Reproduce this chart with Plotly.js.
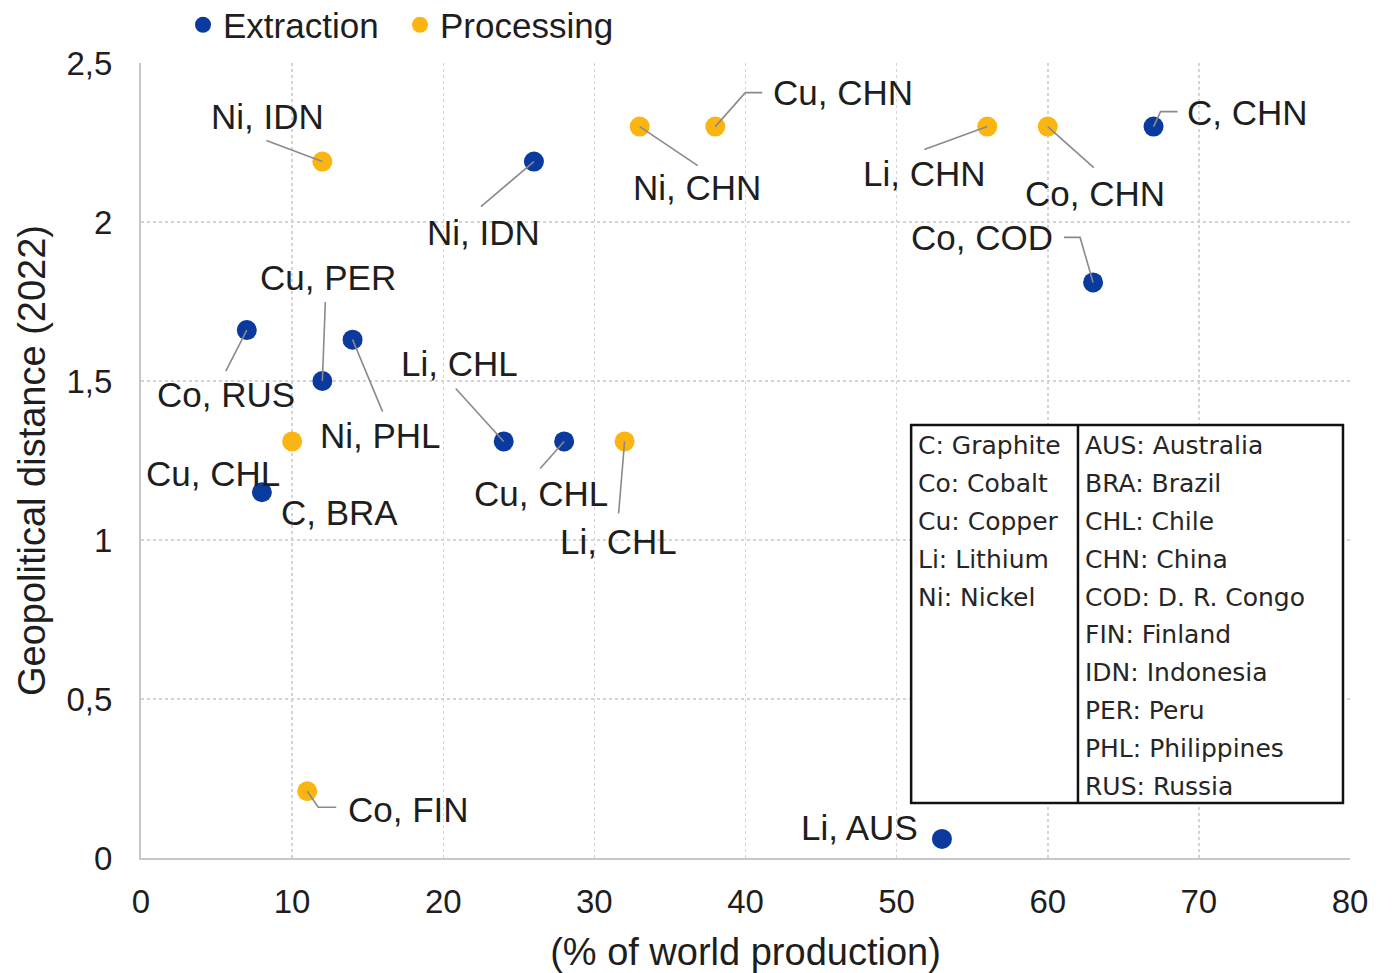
<!DOCTYPE html>
<html><head><meta charset="utf-8">
<script src="https://cdn.plot.ly/plotly-3.0.1.min.js"></script>
<style>html,body{margin:0;padding:0;background:#fff}#chart{width:1396px;height:973px}</style>
</head><body><div id="chart"></div>
<script>
// ---------- data ----------
const extractionX = [7, 8, 12, 14, 24, 26, 28, 53, 63, 67];
const extractionY = [1.66, 1.15, 1.5, 1.63, 1.31, 2.19, 1.31, 0.06, 1.81, 2.3];
const extractionLabels = ["Co, RUS", "C, BRA", "Cu, PER", "Ni, PHL", "Li, CHL", "Ni, IDN", "Cu, CHL", "Li, AUS", "Co, COD", "C, CHN"];

const processingX = [10, 11, 12, 32, 33, 38, 56, 60];
const processingY = [1.31, 0.21, 2.19, 1.31, 2.3, 2.3, 2.3, 2.3];
const processingLabels = ["Cu, CHL", "Co, FIN", "Ni, IDN", "Li, CHL", "Ni, CHN", "Cu, CHN", "Li, CHN", "Co, CHN"];

const xTicks = [0, 10, 20, 30, 40, 50, 60, 70, 80];
const yTicks = [0, 0.5, 1, 1.5, 2, 2.5];

const elementKey = ["C: Graphite", "Co: Cobalt", "Cu: Copper", "Li: Lithium", "Ni: Nickel"];
const countryKey = ["AUS: Australia", "BRA: Brazil", "CHL: Chile", "CHN: China", "COD: D. R. Congo",
                    "FIN: Finland", "IDN: Indonesia", "PER: Peru", "PHL: Philippines", "RUS: Russia"];

// ---------- label placement (pixel offsets from each point; leader path in pixels) ----------
const extractionPlacement = [
  {dx: -21, dy: 64, path: [[0,0],[-21,41]]},
  {dx: 78, dy: 20, path: null},
  {dx: 6, dy: -104, path: [[0,0],[3,-79]]},
  {dx: 28, dy: 96, path: [[0,0],[30,72]]},
  {dx: -44, dy: -78, path: [[0,0],[-48,-53]]},
  {dx: -50, dy: 71, path: [[0,0],[-53,45]]},
  {dx: -23, dy: 52, path: [[0,0],[-24,27]]},
  {dx: -82, dy: -11, path: null},
  {dx: -111, dy: -45, path: [[0,0],[-13,-45],[-29,-45]]},
  {dx: 94, dy: -14, path: [[0,0],[7,-15],[24,-15]]}
];
const processingPlacement = [
  {dx: -79, dy: 32, path: null},
  {dx: 101, dy: 18, path: [[0,0],[11,16],[29,16]]},
  {dx: -55, dy: -45, path: [[0,0],[-56,-21]]},
  {dx: -6, dy: 100, path: [[0,0],[-6,72]]},
  {dx: 57, dy: 61, path: [[0,0],[58,39]]},
  {dx: 128, dy: -34, path: [[0,0],[30,-34],[47,-34]]},
  {dx: -63, dy: 47, path: [[0,0],[-63,23]]},
  {dx: 47, dy: 67, path: [[0,0],[46,41]]}
];

// ---------- layout constants ----------
const W = 1396, H = 973;
const M = {l: 141, r: 46, t: 63, b: 115};
const XR = [0, 80], YR = [0, 2.5];
const plotW = W - M.l - M.r, plotH = H - M.t - M.b;
const xPerPx = (XR[1] - XR[0]) / plotW, yPerPx = (YR[1] - YR[0]) / plotH;

const BLUE = '#0a3a9e', YELLOW = '#fbb512';
const FONT = 'Liberation Sans, Arial, sans-serif';
const TXT = '#1e1e1e';

const annotations = [], shapes = [];
function addLabels(xs, ys, labels, placement) {
  xs.forEach((x, i) => {
    const p = placement[i];
    annotations.push({
      x: x, y: ys[i], xref: 'x', yref: 'y', text: labels[i], showarrow: false,
      xanchor: 'center', yanchor: 'middle', xshift: p.dx, yshift: -p.dy,
      font: {family: FONT, size: 35, color: TXT}
    });
    if (p.path) {
      const d = p.path.map((pt, k) => (k ? 'L' : 'M') + (x + pt[0] * xPerPx) + ',' + (ys[i] - pt[1] * yPerPx)).join(' ');
      shapes.push({type: 'path', xref: 'x', yref: 'y', path: d, layer: 'above',
                   line: {color: '#8a8a8a', width: 1.6}});
    }
  });
}
addLabels(extractionX, extractionY, extractionLabels, extractionPlacement);
addLabels(processingX, processingY, processingLabels, processingPlacement);

// key box (paper coords)
const box = {x0: 0.637, x1: 0.9942, y0: 0.0692, y1: 0.5447, xd: 0.775};
shapes.push({type: 'rect', xref: 'paper', yref: 'paper', x0: box.x0, x1: box.x1, y0: box.y0, y1: box.y1,
             line: {color: '#111', width: 2.5}, fillcolor: 'rgba(255,255,255,1)', layer: 'above'});
shapes.push({type: 'line', xref: 'paper', yref: 'paper', x0: box.xd, x1: box.xd, y0: box.y0, y1: box.y1,
             line: {color: '#111', width: 2.5}, layer: 'above'});
const rowTop = 0.5447 - (446 - 425) / plotH, rowStep = 37.8 / plotH;
const KEYFONT = {family: 'DejaVu Sans, Verdana, sans-serif', size: 25, color: '#262626'};
elementKey.forEach((t, i) => annotations.push({
  xref: 'paper', yref: 'paper', x: box.x0 + 5 / plotW, y: rowTop - i * rowStep, text: t,
  showarrow: false, xanchor: 'left', yanchor: 'middle', font: KEYFONT}));
countryKey.forEach((t, i) => annotations.push({
  xref: 'paper', yref: 'paper', x: box.xd + 5 / plotW, y: rowTop - i * rowStep, text: t,
  showarrow: false, xanchor: 'left', yanchor: 'middle', font: KEYFONT}));

const traces = [
  {type: 'scatter', mode: 'markers', name: 'Extraction', x: extractionX, y: extractionY, text: extractionLabels,
   marker: {color: BLUE, size: 20}, cliponaxis: false},
  {type: 'scatter', mode: 'markers', name: 'Processing', x: processingX, y: processingY, text: processingLabels,
   marker: {color: YELLOW, size: 20}, cliponaxis: false}
];

const gridStyle = {gridcolor: '#d4d4d8', griddash: 'dot', gridwidth: 1.5};
const layout = {
  width: W, height: H, margin: M, paper_bgcolor: '#fff', plot_bgcolor: '#fff',
  separators: ', ',
  font: {family: FONT, size: 33, color: TXT},
  showlegend: true,
  legend: {orientation: 'h', xref: 'container', yref: 'container', x: 183 / W, xanchor: 'left',
           y: 1 - 25 / H, yanchor: 'middle',
           font: {family: FONT, size: 35, color: TXT}, itemsizing: 'trace',
           entrywidth: 172, entrywidthmode: 'pixels',
           bgcolor: 'rgba(0,0,0,0)', tracegroupgap: 0},
  xaxis: Object.assign({range: XR, tickvals: xTicks, ticks: '', showline: true, linecolor: '#c4c8c8', linewidth: 2,
          zeroline: false, ticklabelstandoff: 13, tickfont: {size: 33}, automargin: false,
          title: {text: '(% of world production)', font: {size: 38}, standoff: 20}}, gridStyle),
  yaxis: Object.assign({range: YR, tickvals: yTicks, ticks: '', showline: true, linecolor: '#c4c8c8', linewidth: 2,
          zeroline: false, ticklabelstandoff: 20, tickfont: {size: 33}, automargin: false,
          title: {text: 'Geopolitical distance (2022)', font: {size: 38}, standoff: 9}}, gridStyle),
  annotations: annotations, shapes: shapes
};

Plotly.newPlot('chart', traces, layout, {displayModeBar: false, staticPlot: true});
</script>
</body></html>
